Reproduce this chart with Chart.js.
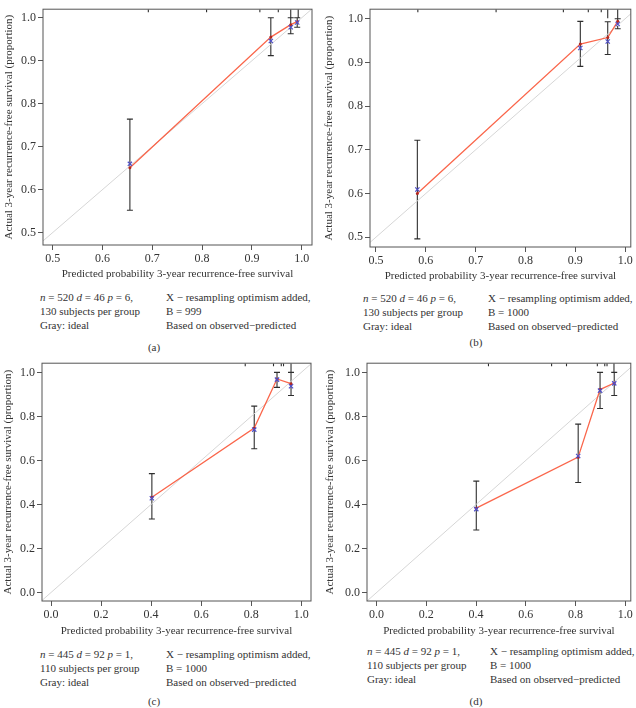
<!DOCTYPE html>
<html>
<head>
<meta charset="utf-8">
<script src="https://cdn.jsdelivr.net/npm/chart.js@4.4.0/dist/chart.umd.min.js"></script>
<style>
  body { margin: 0; background: #fff; }
  #wrap { position: relative; width: 636px; height: 708px; background: #fff; font-family: "Liberation Serif", serif; color: #333; }
  canvas { position: absolute; }
  .note { position: absolute; font-size: 11px; line-height: 14px; white-space: nowrap; }
  .cap { position: absolute; font-size: 11px; line-height: 12px; transform: translate(-50%, -50%); }
</style>
</head>
<body>
<div id="wrap">
  <canvas id="cA" width="318" height="285" style="left:0;top:0"></canvas>
  <canvas id="cB" width="318" height="287" style="left:318px;top:0"></canvas>
  <canvas id="cC" width="318" height="288" style="left:0;top:354px"></canvas>
  <canvas id="cD" width="318" height="288" style="left:318px;top:354px"></canvas>

  <div class="note" style="left:40px;top:290px"><i>n</i> = 520 <i>d</i> = 46 <i>p</i> = 6,<br>130 subjects per group<br>Gray: ideal</div>
  <div class="note" style="left:166px;top:290px">X − resampling optimism added,<br>B = 999<br>Based on observed−predicted</div>
  <div class="cap" style="left:154px;top:347px">(a)</div>

  <div class="note" style="left:363px;top:291px"><i>n</i> = 520 <i>d</i> = 46 <i>p</i> = 6,<br>130 subjects per group<br>Gray: ideal</div>
  <div class="note" style="left:488px;top:291px">X − resampling optimism added,<br>B = 1000<br>Based on observed−predicted</div>
  <div class="cap" style="left:476px;top:342px">(b)</div>

  <div class="note" style="left:40px;top:647px"><i>n</i> = 445 <i>d</i> = 92 <i>p</i> = 1,<br>110 subjects per group<br>Gray: ideal</div>
  <div class="note" style="left:166px;top:647px">X − resampling optimism added,<br>B = 1000<br>Based on observed−predicted</div>
  <div class="cap" style="left:154px;top:701px">(c)</div>

  <div class="note" style="left:367px;top:644px"><i>n</i> = 445 <i>d</i> = 92 <i>p</i> = 1,<br>110 subjects per group<br>Gray: ideal</div>
  <div class="note" style="left:490px;top:644px">X − resampling optimism added,<br>B = 1000<br>Based on observed−predicted</div>
  <div class="cap" style="left:476px;top:701px">(d)</div>
</div>
<script>
// panel (a)
const predA = [0.655, 0.938, 0.978, 0.991];
const obsA = [0.651, 0.955, 0.984, 0.991];
const corrA = [0.660, 0.946, 0.978, 0.989];
const lowA = [0.552, 0.912, 0.963, 0.978];
const highA = [0.764, 1.0, 1.0, 1.0];
const rugXA = [0.692, 0.809, 0.916, 0.953, 0.978, 0.993];
const rugNA = [1, 1, 1, 1, 3, 3];
const xLimA = [0.4805, 1.0207];
const yLimA = [0.471, 1.02];

// panel (b)
const predB = [0.583, 0.910, 0.965, 0.985];
const obsB = [0.600, 0.942, 0.957, 0.994];
const corrB = [0.609, 0.933, 0.948, 0.988];
const lowB = [0.496, 0.891, 0.918, 0.977];
const highB = [0.722, 0.994, 0.993, 1.0];
const rugXB = [0.584, 0.741, 0.876, 0.926, 0.952, 0.965, 0.985];
const rugNB = [1, 1, 1, 1, 1, 3, 3];
const xLimB = [0.488, 1.0113];
const yLimB = [0.4775, 1.0218];

// panel (c)
const predC = [0.403, 0.812, 0.903, 0.959];
const obsC = [0.433, 0.747, 0.970, 0.949];
const corrC = [0.428, 0.740, 0.967, 0.937];
const lowC = [0.334, 0.653, 0.932, 0.895];
const highC = [0.540, 0.847, 1.0, 1.0];
const rugXC = [0.776, 0.889, 0.920, 0.929, 0.959];
const rugNC = [1, 1, 1, 1, 3];
const xLimC = [-0.036, 1.0388];
const yLimC = [-0.0386, 1.0418];

// panel (d)
const predD = [0.401, 0.811, 0.899, 0.956];
const obsD = [0.383, 0.615, 0.922, 0.952];
const corrD = [0.379, 0.620, 0.917, 0.950];
const lowD = [0.284, 0.500, 0.836, 0.895];
const highD = [0.506, 0.765, 1.0, 1.0];
const rugXD = [0.45, 0.704, 0.764, 0.888, 0.918, 0.927, 0.955];
const rugND = [1, 1, 1, 1, 1, 1, 3];
const xLimD = [-0.0387, 1.0227];
const yLimD = [-0.0386, 1.0418];

const ticksHigh = [0.5, 0.6, 0.7, 0.8, 0.9, 1.0];
const ticksFull = [0.0, 0.2, 0.4, 0.6, 0.8, 1.0];

Chart.defaults.font.family = '"Liberation Serif", serif';
Chart.defaults.color = '#333';

// error bars, rug at the top and the box round the plot
const calExtras = {
    id: 'calExtras',
    beforeDatasetsDraw(chart, args, o) {
        const { ctx, chartArea: a, scales: { x, y } } = chart;
        ctx.save();
        ctx.beginPath();
        ctx.rect(a.left, a.top, a.width, a.height);
        ctx.clip();
        ctx.strokeStyle = '#2e2e2e';
        ctx.lineWidth = 1.1;
        ctx.beginPath();
        o.pred.forEach((v, i) => {
            const px = x.getPixelForValue(v);
            const p1 = y.getPixelForValue(o.low[i]);
            const p2 = y.getPixelForValue(o.high[i]);
            ctx.moveTo(px, p1); ctx.lineTo(px, p2);
            ctx.moveTo(px - 3, p1); ctx.lineTo(px + 3, p1);
            ctx.moveTo(px - 3, p2); ctx.lineTo(px + 3, p2);
        });
        o.rugX.forEach((v, i) => {
            const px = x.getPixelForValue(v);
            ctx.moveTo(px, a.top);
            ctx.lineTo(px, a.top + o.rugN[i] * 3);
        });
        ctx.stroke();
        ctx.restore();
    },
    afterDatasetsDraw(chart) {
        const { ctx, chartArea: a } = chart;
        ctx.save();
        ctx.strokeStyle = '#555';
        ctx.lineWidth = 1;
        ctx.strokeRect(a.left, a.top, a.width, a.height);
        ctx.restore();
    }
};

function makeChart(id, pred, obs, corr, low, high, rugX, rugN, xLim, yLim, ticks, geo) {
    const lo = Math.min(xLim[0], yLim[0]);
    const hi = Math.max(xLim[1], yLim[1]);
    const axisCommon = {
        type: 'linear',
        grid: { display: true, drawOnChartArea: false, drawTicks: true, tickLength: 5, color: '#555' },
        border: { display: false },
        afterBuildTicks: (s) => { s.ticks = ticks.map((v) => ({ value: v })); }
    };
    return new Chart(document.getElementById(id), {
        type: 'scatter',
        data: {
            datasets: [
                {
                    data: corr.map((v, i) => ({ x: pred[i], y: v })),
                    pointStyle: 'crossRot',
                    pointRadius: 3,
                    borderColor: '#4f4fc8',
                    borderWidth: 1.2,
                    showLine: false,
                    order: 0
                },
                {
                    data: obs.map((v, i) => ({ x: pred[i], y: v })),
                    showLine: true,
                    borderColor: 'rgba(250, 85, 55, 0.9)',
                    borderWidth: 1.3,
                    pointRadius: 1.5,
                    pointBackgroundColor: '#b3261e',
                    pointBorderWidth: 0,
                    order: 1
                },
                {
                    data: [{ x: lo, y: lo }, { x: hi, y: hi }],
                    showLine: true,
                    borderColor: '#d6d6d6',
                    borderWidth: 1,
                    pointRadius: 0,
                    order: 2
                }
            ]
        },
        options: {
            responsive: false,
            animation: false,
            layout: { padding: { left: 0, top: geo.pt, right: geo.pr, bottom: 0 } },
            plugins: {
                legend: { display: false },
                tooltip: { enabled: false },
                calExtras: { pred, low, high, rugX, rugN }
            },
            scales: {
                x: {
                    ...axisCommon,
                    min: xLim[0], max: xLim[1],
                    ticks: { padding: 2, font: { size: 12 }, callback: (v) => v.toFixed(1) },
                    title: { display: true, text: 'Predicted probability 3-year recurrence-free survival', font: { size: 11 }, padding: { top: 0, bottom: 4 } },
                    afterFit: (s) => { s.height = geo.xh; }
                },
                y: {
                    ...axisCommon,
                    min: yLim[0], max: yLim[1],
                    ticks: { padding: 2, font: { size: 12 }, callback: (v) => v.toFixed(1) },
                    title: { display: true, text: 'Actual 3-year recurrence-free survival (proportion)', font: { size: 11 }, padding: { top: geo.tp, bottom: 0 } },
                    afterFit: (s) => { s.width = geo.yw; }
                }
            }
        },
        plugins: [calExtras]
    });
}

makeChart('cA', predA, obsA, corrA, lowA, highA, rugXA, rugNA, xLimA, yLimA, ticksHigh, { pt: 1, pr: 6, yw: 43, xh: 40, tp: 3 });
makeChart('cB', predB, obsB, corrB, lowB, highB, rugXB, rugNB, xLimB, yLimB, ticksHigh, { pt: 4, pr: 3, yw: 52, xh: 40, tp: 5 });
makeChart('cC', predC, obsC, corrC, lowC, highC, rugXC, rugNC, xLimC, yLimC, ticksFull, { pt: 7, pr: 7, yw: 42, xh: 41, tp: 2 });
makeChart('cD', predD, obsD, corrD, lowD, highD, rugXD, rugND, xLimD, yLimD, ticksFull, { pt: 7, pr: 3, yw: 49, xh: 41, tp: 6 });
</script>
</body>
</html>
